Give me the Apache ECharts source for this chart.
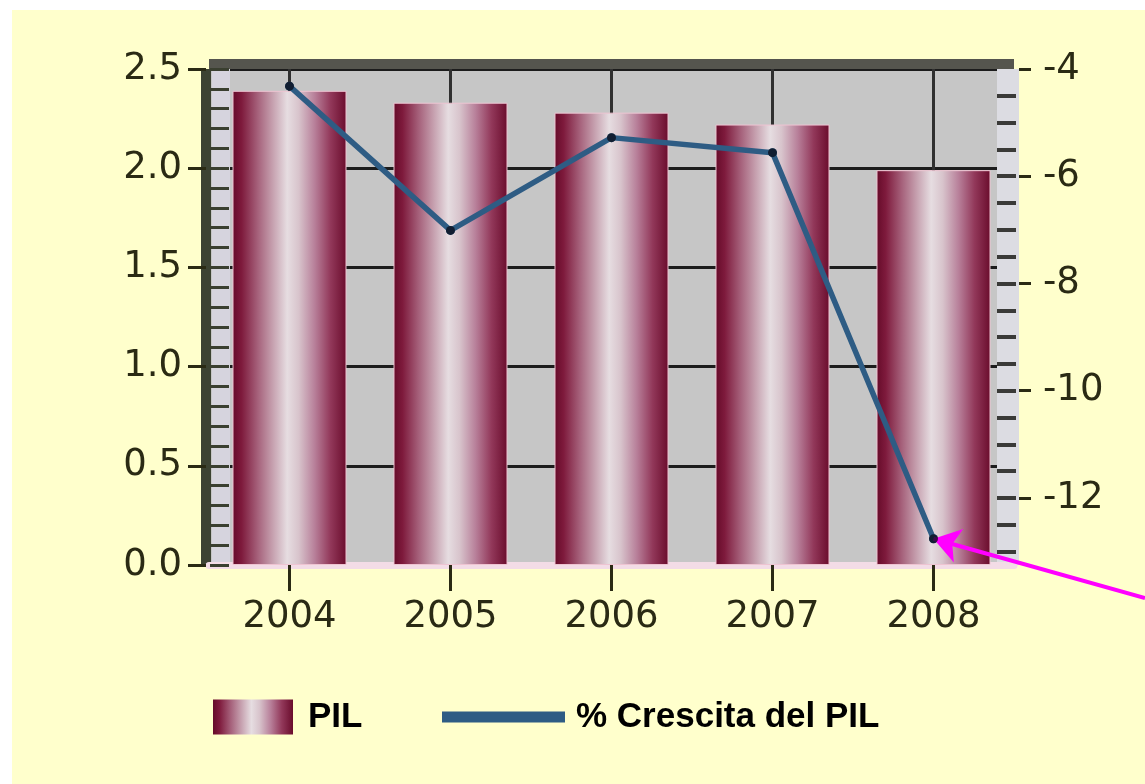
<!DOCTYPE html>
<html>
<head>
<meta charset="utf-8">
<script src="https://cdn.jsdelivr.net/npm/echarts@6/dist/echarts.min.js"></script>
<style>
    body { margin: 0; background: #ffffff; }
    #main { position: absolute; left: 12px; top: 10px; width: 1133px; height: 774px; background: #ffffcc; }
</style>
</head>
<body>
<div id="main"></div>
<script>
    // anni
    const years = ['2004', '2005', '2006', '2007', '2008'];
    // PIL (asse sinistro)
    const pil = [2.39, 2.33, 2.28, 2.22, 1.99];
    // % crescita del PIL (asse destro)
    const crescita = [-4.32, -7.01, -5.28, -5.56, -12.76];
    // tacche dell'asse destro
    const rightLabels = [-12, -10, -8, -6, -4];
    const rightMinor = [-13, -12.5, -12, -11.5, -11, -10.5, -10, -9.5, -9, -8.5, -8, -7.5, -7, -6.5, -6, -5.5, -5, -4.5];

    const axisFont = { fontFamily: 'DejaVu Sans', fontSize: 37, color: '#2a2a14' };

    // gradiente delle barre
    const barGradient = new echarts.graphic.LinearGradient(0, 0, 1, 0, [
        { offset: 0, color: '#650b29' },
        { offset: 0.08, color: '#7e1a3c' },
        { offset: 0.22, color: '#a5607a' },
        { offset: 0.36, color: '#c8a4b2' },
        { offset: 0.48, color: '#e6dde1' },
        { offset: 0.58, color: '#d8c4cc' },
        { offset: 0.72, color: '#b8809a' },
        { offset: 0.86, color: '#92385a' },
        { offset: 1, color: '#6a0c2c' }
    ]);

    var myChart = echarts.init(document.getElementById('main'));
    let option = {
        animation: false,
        grid: {
            left: 197,
            right: 131,
            top: 59,
            bottom: 219,
            show: true,
            backgroundColor: '#c6c6c6',
            borderWidth: 0
        },
        legend: [
            {
                data: [{ name: 'PIL', icon: 'rect' }],
                left: 196,
                top: 682,
                itemWidth: 80,
                itemHeight: 35,
                itemStyle: { borderWidth: 0 },
                textStyle: { fontFamily: 'Liberation Sans', fontWeight: 'bold', fontSize: 35, color: '#000', lineHeight: 40, padding: [0, 0, 0, 10] }
            },
            {
                data: [{ name: '% Crescita del PIL', icon: 'rect' }],
                left: 425,
                top: 682,
                itemWidth: 123,
                itemHeight: 11,
                textStyle: { fontFamily: 'Liberation Sans', fontWeight: 'bold', fontSize: 35, color: '#000', lineHeight: 40, padding: [0, 0, 0, 6] }
            }
        ],
        xAxis: [
            {
                type: 'category',
                data: years,
                position: 'bottom',
                axisLine: { show: true, lineStyle: { color: '#f3dce6', width: 7 } },
                axisTick: { show: true, alignWithLabel: true, length: 26, lineStyle: { color: '#2a2a14', width: 3 } },
                axisLabel: Object.assign({ margin: 34 }, axisFont),
                splitLine: { show: true, alignWithLabel: true, lineStyle: { color: '#303030', width: 3 } }
            },
            {
                // bordo superiore scuro
                type: 'category',
                data: years,
                position: 'top',
                offset: 5,
                axisLine: { show: true, onZero: false, lineStyle: { color: '#55554e', width: 10, cap: 'butt' } },
                axisTick: { show: false },
                axisLabel: { show: false }
            }
        ],
        yAxis: [
            {
                type: 'value',
                min: 0,
                max: 2.5,
                interval: 0.5,
                offset: 3,
                axisLine: { show: true, onZero: false, lineStyle: { color: '#3c4232', width: 10, cap: 'butt' } },
                axisTick: { show: true, length: 18, lineStyle: { color: '#2a2a14', width: 3 } },
                axisLabel: Object.assign({ margin: 24, formatter: v => v.toFixed(1) }, axisFont),
                splitLine: { show: true, lineStyle: { color: '#1c1c1c', width: 3 } }
            },
            {
                type: 'value',
                position: 'right',
                min: -13.25,
                max: -4,
                offset: 5,
                axisLine: { show: false },
                axisTick: { show: true, length: 12, customValues: rightLabels, lineStyle: { color: '#2a2a14', width: 3 } },
                axisLabel: Object.assign({ margin: 24, customValues: rightLabels }, axisFont),
                splitLine: { show: false }
            },
            // striscia chiara a sinistra
            {
                type: 'value',
                position: 'left',
                min: 0,
                max: 2.5,
                offset: -12,
                axisLine: { show: true, onZero: false, lineStyle: { color: '#d6d4de', width: 18, cap: 'butt' } },
                axisTick: { show: false },
                axisLabel: { show: false },
                splitLine: { show: false }
            },
            // tacche minori a sinistra
            {
                type: 'value',
                position: 'left',
                min: 0,
                max: 2.5,
                interval: 0.1,
                offset: -1,
                axisLine: { show: false },
                axisTick: { show: true, inside: true, length: 19, lineStyle: { color: '#3a3f30', width: 3 } },
                axisLabel: { show: false },
                splitLine: { show: false }
            },
            // striscia chiara a destra
            {
                type: 'value',
                position: 'right',
                min: -13.25,
                max: -4,
                offset: -6,
                axisLine: { show: true, onZero: false, lineStyle: { color: '#dcdce2', width: 22, cap: 'butt' } },
                axisTick: { show: false },
                axisLabel: { show: false },
                splitLine: { show: false }
            },
            // tacche minori a destra
            {
                type: 'value',
                position: 'right',
                min: -13.25,
                max: -4,
                offset: 2,
                axisLine: { show: false },
                axisTick: { show: true, inside: true, length: 19, customValues: rightMinor, lineStyle: { color: '#3a3a38', width: 4 } },
                axisLabel: { show: false },
                splitLine: { show: false }
            }
        ],
        series: [
            {
                name: 'PIL',
                type: 'bar',
                data: pil,
                barWidth: 114,
                itemStyle: { color: barGradient, borderColor: '#eec4d2', borderWidth: 1 }
            },
            {
                name: '% Crescita del PIL',
                type: 'line',
                yAxisIndex: 1,
                data: crescita,
                clip: false,
                symbol: 'circle',
                symbolSize: 9,
                itemStyle: { color: '#2e5c84' },
                lineStyle: { color: '#2e5c84', width: 5.5 },
                emphasis: { disabled: true },
                markLine: {
                    silent: true,
                    symbol: ['none', 'arrow'],
                    symbolSize: 26,
                    label: { show: false },
                    lineStyle: { color: '#ff00ff', width: 4, type: 'solid' },
                    data: [
                        [{ x: 1133, y: 588 }, { coord: [4, crescita[4]] }]
                    ]
                }
            },
            {
                // punti neri sulla linea
                name: 'punti',
                type: 'scatter',
                yAxisIndex: 1,
                data: crescita,
                symbolSize: 9,
                itemStyle: { color: '#0a0f1e' },
                z: 5
            }
        ]
    };
    myChart.setOption(option);
</script>
</body>
</html>
